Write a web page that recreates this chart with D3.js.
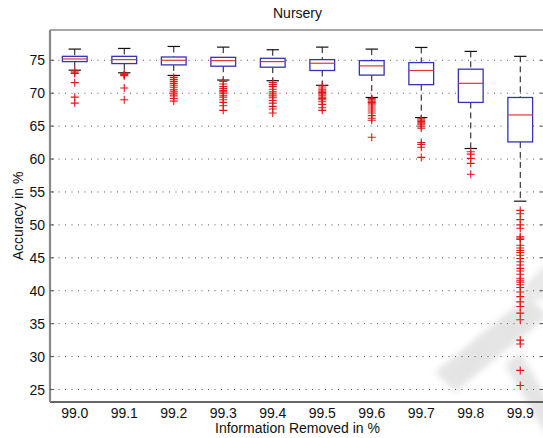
<!DOCTYPE html>
<html>
<head>
<meta charset="utf-8">
<script src="https://cdn.jsdelivr.net/npm/d3@7"></script>
<style>
  body { margin: 0; background: #fff; }
  text { font-family: "Liberation Sans", Arial, sans-serif; fill: #111; }
</style>
</head>
<body>
<div id="chart"></div>
<script>
// Nursery boxplot: accuracy vs. information removed
const categories = ["99.0", "99.1", "99.2", "99.3", "99.4", "99.5", "99.6", "99.7", "99.8", "99.9"];
const whiskerHigh = [76.7, 76.8, 77.1, 77.0, 76.6, 77.0, 76.7, 76.95, 76.35, 75.6];
const q3 = [75.6, 75.6, 75.5, 75.45, 75.3, 75.1, 74.95, 74.65, 73.65, 69.35];
const medians = [75.2, 75.1, 75.0, 74.95, 74.8, 74.55, 74.15, 73.45, 71.5, 66.7];
const q1 = [74.8, 74.5, 74.3, 74.1, 73.95, 73.45, 72.75, 71.3, 68.6, 62.6];
const whiskerLow = [73.5, 73.1, 72.7, 72.0, 71.9, 71.2, 69.35, 66.3, 61.6, 53.6];
const outliers = [
  [73.4, 73.2, 73.0, 71.6, 69.4, 68.5],
  [72.95, 72.85, 72.75, 72.65, 70.8, 69.0],
  [72.4, 72.1, 71.8, 71.5, 71.2, 70.9, 70.5, 70.2, 69.9, 69.6, 69.2, 68.8],
  [71.8, 71.4, 71.0, 70.7, 70.4, 70.2, 70.0, 69.7, 69.4, 69.0, 68.6, 68.1, 67.4],
  [71.6, 71.3, 71.0, 70.6, 70.2, 69.9, 69.6, 69.3, 68.9, 68.5, 68.0, 67.6, 67.0],
  [71.1, 70.8, 70.5, 70.3, 70.1, 69.9, 69.7, 69.4, 69.2, 69.0, 68.7, 68.3, 67.8, 67.4],
  [69.2, 69.0, 68.8, 68.6, 68.4, 68.2, 67.9, 67.6, 67.3, 67.0, 66.6, 66.2, 65.9, 63.3],
  [66.1, 65.9, 65.7, 65.5, 65.3, 65.0, 64.7, 62.5, 62.2, 61.8, 60.25],
  [61.1, 60.75, 60.1, 59.35, 57.7],
  [52.2, 51.7, 50.8, 50.0, 49.5, 48.2, 48.0, 47.8, 46.9, 46.5, 46.1, 45.8, 45.4, 44.9,
   44.4, 43.9, 43.4, 43.0, 42.5, 41.9, 41.6, 41.3, 40.9, 40.5, 39.8, 39.1, 38.3, 37.6,
   36.6, 35.6, 32.5, 31.9, 27.9, 25.6]
];
const yTicks = [25, 30, 35, 40, 45, 50, 55, 60, 65, 70, 75];

const W = 543, H = 438;
const pLeft = 50, pRight = 545, pTop = 30, pBottom = 402;

const svg = d3.select("#chart").append("svg")
  .attr("width", W).attr("height", H);

const x = d3.scaleLinear().domain([0.5, categories.length + 0.5]).range([pLeft, pRight]);
const y = d3.scaleLinear().domain([23.1, 79.6]).range([pBottom, pTop]);
const unit = x(1) - x(0);
const boxHalf = unit * 0.25, capHalf = unit * 0.125;

// faint watermark in the corner
const blur = svg.append("defs").append("filter").attr("id", "blur");
blur.append("feGaussianBlur").attr("stdDeviation", 3);
const wm = svg.append("g").attr("opacity", 0.22).attr("filter", "url(#blur)");
wm.append("path").attr("d", "M435,372 L528,296 L548,316 L455,392 Z").attr("fill", "#888");
wm.append("path").attr("d", "M505,365 L520,352 L560,420 L545,433 Z").attr("fill", "#888");
wm.append("path").attr("d", "M512,298 L548,262 L548,300 Z").attr("fill", "#999");

// dotted horizontal grid
svg.append("g").selectAll("line").data(yTicks).join("line")
  .attr("x1", pLeft + 2).attr("x2", pRight)
  .attr("y1", d => y(d)).attr("y2", d => y(d))
  .attr("stroke", "#555").attr("stroke-width", 1)
  .attr("stroke-dasharray", "1,5.5");

const g = svg.append("g");
const idx = d3.range(categories.length);

// whiskers (dashed)
g.append("g").selectAll("line").data(idx).join("line")
  .attr("x1", i => x(i + 1)).attr("x2", i => x(i + 1))
  .attr("y1", i => y(whiskerHigh[i])).attr("y2", i => y(q3[i]))
  .attr("stroke", "#111").attr("stroke-dasharray", "6,4");
g.append("g").selectAll("line").data(idx).join("line")
  .attr("x1", i => x(i + 1)).attr("x2", i => x(i + 1))
  .attr("y1", i => y(q1[i])).attr("y2", i => y(whiskerLow[i]))
  .attr("stroke", "#111").attr("stroke-dasharray", "6,4");

// caps
[whiskerHigh, whiskerLow].forEach(arr => {
  g.append("g").selectAll("line").data(idx).join("line")
    .attr("x1", i => x(i + 1) - capHalf).attr("x2", i => x(i + 1) + capHalf)
    .attr("y1", i => y(arr[i])).attr("y2", i => y(arr[i]))
    .attr("stroke", "#111").attr("stroke-width", 1.2);
});

// boxes
g.append("g").selectAll("rect").data(idx).join("rect")
  .attr("x", i => x(i + 1) - boxHalf).attr("width", boxHalf * 2)
  .attr("y", i => y(q3[i])).attr("height", i => y(q1[i]) - y(q3[i]))
  .attr("fill", "#fff").attr("stroke", "#3434b4").attr("stroke-width", 1.3);

// medians
g.append("g").selectAll("line").data(idx).join("line")
  .attr("x1", i => x(i + 1) - boxHalf).attr("x2", i => x(i + 1) + boxHalf)
  .attr("y1", i => y(medians[i])).attr("y2", i => y(medians[i]))
  .attr("stroke", "#d83a3a").attr("stroke-width", 1.2);

// outliers as red plus marks
const pts = [];
outliers.forEach((arr, i) => arr.forEach(v => pts.push([i, v])));
g.append("g").selectAll("path").data(pts).join("path")
  .attr("d", d => {
    const cx = x(d[0] + 1), cy = y(d[1]);
    return `M${cx - 4},${cy}H${cx + 4}M${cx},${cy - 4}V${cy + 4}`;
  })
  .attr("stroke", "#e01818").attr("stroke-width", 1.1).attr("fill", "none");

// axes frame
svg.append("line").attr("x1", pLeft).attr("x2", pRight).attr("y1", pTop).attr("y2", pTop)
  .attr("stroke", "#888").attr("stroke-width", 1.5);
svg.append("line").attr("x1", pLeft).attr("x2", pRight).attr("y1", pBottom).attr("y2", pBottom)
  .attr("stroke", "#333").attr("stroke-width", 1.5);
svg.append("line").attr("x1", pLeft).attr("x2", pLeft).attr("y1", pTop).attr("y2", pBottom)
  .attr("stroke", "#888").attr("stroke-width", 2.2);

// inward ticks on both sides
svg.append("g").selectAll("line").data(yTicks).join("line")
  .attr("x1", pLeft).attr("x2", pLeft + 4)
  .attr("y1", d => y(d)).attr("y2", d => y(d)).attr("stroke", "#555");
svg.append("g").selectAll("line").data(yTicks).join("line")
  .attr("x1", pRight - 5).attr("x2", pRight)
  .attr("y1", d => y(d)).attr("y2", d => y(d)).attr("stroke", "#555");

// tick labels
svg.append("g").selectAll("text").data(yTicks).join("text")
  .attr("x", pLeft - 5).attr("y", d => y(d)).attr("dy", "0.36em")
  .attr("text-anchor", "end").attr("font-size", 14).text(d => d);
svg.append("g").selectAll("text").data(categories).join("text")
  .attr("x", (d, i) => x(i + 1)).attr("y", 418)
  .attr("text-anchor", "middle").attr("font-size", 14).text(d => d);

// titles
svg.append("text").attr("x", (pLeft + pRight) / 2).attr("y", 18)
  .attr("text-anchor", "middle").attr("font-size", 14).text("Nursery");
svg.append("text").attr("x", (pLeft + pRight) / 2).attr("y", 433)
  .attr("text-anchor", "middle").attr("font-size", 14).text("Information Removed in %");
svg.append("text").attr("transform", `translate(23,${(pTop + pBottom) / 2}) rotate(-90)`)
  .attr("text-anchor", "middle").attr("font-size", 14).text("Accuracy in %");
</script>
</body>
</html>
